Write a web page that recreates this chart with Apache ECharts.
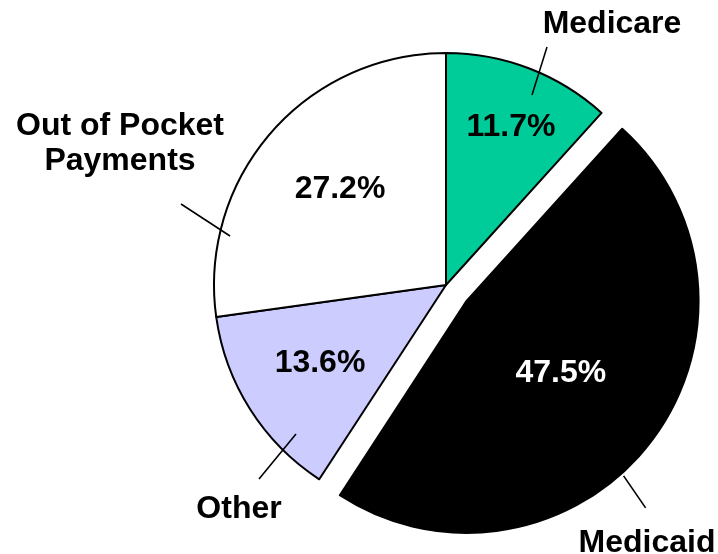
<!DOCTYPE html>
<html>
<head>
<meta charset="utf-8">
<script src="https://cdn.jsdelivr.net/npm/echarts@6/dist/echarts.min.js"></script>
<style>
  html, body { margin: 0; padding: 0; background: #ffffff; }
  #chart { width: 718px; height: 554px; }
</style>
</head>
<body>
<div id="chart"></div>
<script>
// Shares of spending by payer, clockwise from 12 o'clock
const categories = ['Medicare', 'Medicaid', 'Other', 'Out of Pocket\nPayments'];
const shares = [11.7, 47.5, 13.6, 27.2];

// Styling
const sliceColors = ['#00CC99', '#000000', '#CCCCFF', '#FFFFFF'];
const valueTextColors = ['#000000', '#FFFFFF', '#000000', '#000000'];
const explodedIndex = 1;

// Geometry (pixels)
const CX = 446, CY = 285, RADIUS = 232, EXPLODE = 26;
const FONT = 'Liberation Sans, Arial, Helvetica, sans-serif';
const FONT_SIZE = 32;

// Value label offsets from each slice's own centre
const valueLabelOffsets = [[65, -158], [106, 59], [-126, 78], [-106, -96]];
// Category label positions relative to the pie centre
const nameLabelOffsets = [[166, -261], [201, 258], [-207, 224], [-326, -141]];
// Leader lines (start, end) relative to each slice's own centre
const leaderLines = [
  [[86, -190], [101, -238]],
  [[157, 175], [179, 207]],
  [[-150, 149], [-187, 194]],
  [[-216, -49], [-265, -81]]
];

const total = shares.reduce((a, b) => a + b, 0);
function midAngle(i) {
  let before = 0;
  for (let k = 0; k < i; k++) before += shares[k];
  return ((before + shares[i] / 2) / total) * 2 * Math.PI;
}
function sliceCentre(i) {
  if (i !== explodedIndex) return [CX, CY];
  const a = midAngle(i);
  return [CX + EXPLODE * Math.sin(a), CY - EXPLODE * Math.cos(a)];
}

const chart = echarts.init(document.getElementById('chart'), null, { renderer: 'canvas' });

const pieData = shares.map((v, i) => ({
  value: v,
  name: categories[i],
  selected: i === explodedIndex,
  itemStyle: { color: sliceColors[i] },
  label: { color: valueTextColors[i] }
}));

const graphics = [];
leaderLines.forEach((seg, i) => {
  const c = sliceCentre(i);
  graphics.push({
    type: 'line',
    silent: true,
    shape: { x1: c[0] + seg[0][0], y1: c[1] + seg[0][1], x2: c[0] + seg[1][0], y2: c[1] + seg[1][1] },
    style: { stroke: '#000000', lineWidth: 1.6 },
    z: 10
  });
});
categories.forEach((name, i) => {
  graphics.push({
    type: 'text',
    silent: true,
    x: CX + nameLabelOffsets[i][0],
    y: CY + nameLabelOffsets[i][1],
    style: {
      text: name,
      fill: '#000000',
      fontFamily: FONT,
      fontWeight: 'bold',
      fontSize: FONT_SIZE,
      lineHeight: 35,
      align: 'center',
      verticalAlign: 'middle'
    },
    z: 10
  });
});

chart.setOption({
  animation: false,
  backgroundColor: '#ffffff',
  series: [{
    type: 'pie',
    center: [CX, CY],
    radius: RADIUS,
    startAngle: 90,
    clockwise: true,
    selectedMode: 'single',
    selectedOffset: EXPLODE,
    silent: true,
    itemStyle: { borderColor: '#000000', borderWidth: 2 },
    select: { itemStyle: { borderColor: '#000000', borderWidth: 2 } },
    emphasis: { disabled: true },
    label: {
      show: true,
      position: 'inside',
      formatter: p => p.value.toFixed(1) + '%',
      fontFamily: FONT,
      fontWeight: 'bold',
      fontSize: FONT_SIZE
    },
    labelLine: { show: false },
    labelLayout: function (p) {
      const i = p.dataIndex;
      const c = sliceCentre(i);
      return {
        x: c[0] + valueLabelOffsets[i][0],
        y: c[1] + valueLabelOffsets[i][1],
        align: 'center',
        verticalAlign: 'middle'
      };
    },
    data: pieData
  }],
  graphic: graphics
});
</script>
</body>
</html>
